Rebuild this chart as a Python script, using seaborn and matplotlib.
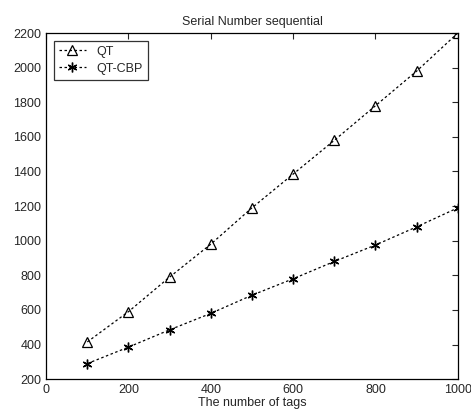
import matplotlib
matplotlib.use("Agg")
import matplotlib.pyplot as plt
import seaborn as sns

tags = [100, 200, 300, 400, 500, 600, 700, 800, 900, 1000]
qt = [415, 590, 790, 980, 1190, 1385, 1580, 1780, 1980, 2200]
qt_cbp = [290, 385, 485, 580, 685, 780, 880, 975, 1080, 1190]

sns.set_style("white")
plt.rcParams["font.family"] = ["Liberation Sans", "DejaVu Sans"]

fig = plt.figure(figsize=(4.71, 4.13), dpi=100)
ax = fig.add_axes([0.098, 0.082, 0.874, 0.838])

# QT: open triangles on a dotted line
sns.lineplot(x=tags, y=qt, ax=ax, color="black", linewidth=0.9,
             linestyle=(0, (2, 2)), marker="^", markersize=7.5,
             markerfacecolor="none", markeredgecolor="black",
             markeredgewidth=0.9, label="QT")
# QT-CBP: line-art asterisks
sns.lineplot(x=tags, y=qt_cbp, ax=ax, color="black", linewidth=0.9,
             linestyle=(0, (2, 2)), marker=(6, 2, 0), markersize=7,
             markeredgecolor="black", markeredgewidth=1.0, label="QT-CBP")

ax.set_xlim(0, 1000)
ax.set_ylim(200, 2200)
ax.set_xticks(range(0, 1001, 200))
ax.set_yticks(range(200, 2201, 200))
ax.tick_params(direction="in", top=True, right=True, labelsize=9, length=4)
for s in ax.spines.values():
    s.set_color("black")
    s.set_linewidth(0.9)

ax.set_title("Serial Number sequential", fontsize=9)
ax.set_xlabel("The number of tags", fontsize=9, labelpad=1)

leg = ax.legend(loc="upper left", fontsize=9, frameon=True, fancybox=False,
                edgecolor="black", borderaxespad=0.6, handlelength=2.2,
                labelspacing=0.4)
leg.get_frame().set_linewidth(0.9)

fig.savefig("out.png", dpi=100)
